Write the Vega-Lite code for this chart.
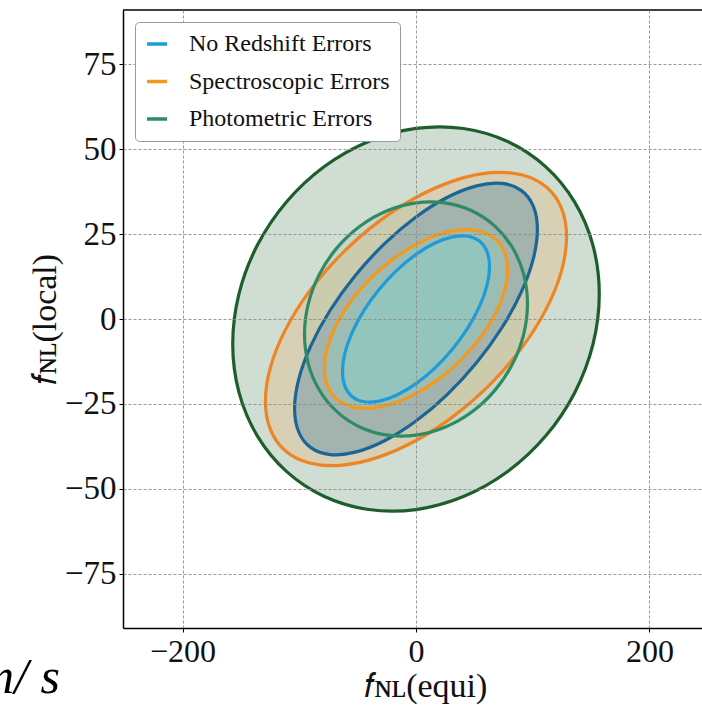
{
  "$schema": "https://vega.github.io/schema/vega-lite/v6.json",
  "width": 579,
  "height": 618,
  "autosize": {"type": "none"},
  "padding": {"left": 123, "top": 10, "right": 0, "bottom": 77},
  "background": "white",
  "config": {
    "view": {"stroke": null},
    "font": "Liberation Serif",
    "axis": {"labelFont": "Liberation Serif", "titleFont": "Liberation Serif"},
    "legend": {"labelFont": "Liberation Serif"}
  },
  "datasets": {
    "contours": [
      {"c": "photo2", "s": "Photometric Errors", "k": 0, "x": 157, "y": 7.36},
      {"c": "photo2", "s": "Photometric Errors", "k": 1, "x": 151.65, "y": 21.63},
      {"c": "photo2", "s": "Photometric Errors", "k": 2, "x": 135.96, "y": 34.43},
      {"c": "photo2", "s": "Photometric Errors", "k": 3, "x": 111.01, "y": 44.89},
      {"c": "photo2", "s": "Photometric Errors", "k": 4, "x": 78.5, "y": 52.28},
      {"c": "photo2", "s": "Photometric Errors", "k": 5, "x": 40.63, "y": 56.11},
      {"c": "photo2", "s": "Photometric Errors", "k": 6, "x": 0, "y": 56.12},
      {"c": "photo2", "s": "Photometric Errors", "k": 7, "x": -40.63, "y": 52.3},
      {"c": "photo2", "s": "Photometric Errors", "k": 8, "x": -78.5, "y": 44.92},
      {"c": "photo2", "s": "Photometric Errors", "k": 9, "x": -111.01, "y": 34.48},
      {"c": "photo2", "s": "Photometric Errors", "k": 10, "x": -135.96, "y": 21.69},
      {"c": "photo2", "s": "Photometric Errors", "k": 11, "x": -151.65, "y": 7.42},
      {"c": "photo2", "s": "Photometric Errors", "k": 12, "x": -157, "y": -7.36},
      {"c": "photo2", "s": "Photometric Errors", "k": 13, "x": -151.65, "y": -21.63},
      {"c": "photo2", "s": "Photometric Errors", "k": 14, "x": -135.96, "y": -34.43},
      {"c": "photo2", "s": "Photometric Errors", "k": 15, "x": -111.01, "y": -44.89},
      {"c": "photo2", "s": "Photometric Errors", "k": 16, "x": -78.5, "y": -52.28},
      {"c": "photo2", "s": "Photometric Errors", "k": 17, "x": -40.63, "y": -56.11},
      {"c": "photo2", "s": "Photometric Errors", "k": 18, "x": 0, "y": -56.12},
      {"c": "photo2", "s": "Photometric Errors", "k": 19, "x": 40.63, "y": -52.3},
      {"c": "photo2", "s": "Photometric Errors", "k": 20, "x": 78.5, "y": -44.92},
      {"c": "photo2", "s": "Photometric Errors", "k": 21, "x": 111.01, "y": -34.48},
      {"c": "photo2", "s": "Photometric Errors", "k": 22, "x": 135.96, "y": -21.69},
      {"c": "photo2", "s": "Photometric Errors", "k": 23, "x": 151.65, "y": -7.42},

      {"c": "photo1", "s": "Photometric Errors", "k": 0, "x": 95.5, "y": 4.49},
      {"c": "photo1", "s": "Photometric Errors", "k": 1, "x": 92.24, "y": 13.19},
      {"c": "photo1", "s": "Photometric Errors", "k": 2, "x": 82.7, "y": 20.99},
      {"c": "photo1", "s": "Photometric Errors", "k": 3, "x": 67.53, "y": 27.36},
      {"c": "photo1", "s": "Photometric Errors", "k": 4, "x": 47.75, "y": 31.87},
      {"c": "photo1", "s": "Photometric Errors", "k": 5, "x": 24.72, "y": 34.2},
      {"c": "photo1", "s": "Photometric Errors", "k": 6, "x": 0, "y": 34.21},
      {"c": "photo1", "s": "Photometric Errors", "k": 7, "x": -24.72, "y": 31.88},
      {"c": "photo1", "s": "Photometric Errors", "k": 8, "x": -47.75, "y": 27.39},
      {"c": "photo1", "s": "Photometric Errors", "k": 9, "x": -67.53, "y": 21.02},
      {"c": "photo1", "s": "Photometric Errors", "k": 10, "x": -82.7, "y": 13.22},
      {"c": "photo1", "s": "Photometric Errors", "k": 11, "x": -92.24, "y": 4.52},
      {"c": "photo1", "s": "Photometric Errors", "k": 12, "x": -95.5, "y": -4.49},
      {"c": "photo1", "s": "Photometric Errors", "k": 13, "x": -92.24, "y": -13.19},
      {"c": "photo1", "s": "Photometric Errors", "k": 14, "x": -82.7, "y": -20.99},
      {"c": "photo1", "s": "Photometric Errors", "k": 15, "x": -67.53, "y": -27.36},
      {"c": "photo1", "s": "Photometric Errors", "k": 16, "x": -47.75, "y": -31.87},
      {"c": "photo1", "s": "Photometric Errors", "k": 17, "x": -24.72, "y": -34.2},
      {"c": "photo1", "s": "Photometric Errors", "k": 18, "x": 0, "y": -34.21},
      {"c": "photo1", "s": "Photometric Errors", "k": 19, "x": 24.72, "y": -31.88},
      {"c": "photo1", "s": "Photometric Errors", "k": 20, "x": 47.75, "y": -27.39},
      {"c": "photo1", "s": "Photometric Errors", "k": 21, "x": 67.53, "y": -21.02},
      {"c": "photo1", "s": "Photometric Errors", "k": 22, "x": 82.7, "y": -13.22},
      {"c": "photo1", "s": "Photometric Errors", "k": 23, "x": 92.24, "y": -4.52},

      {"c": "spec2", "s": "Spectroscopic Errors", "k": 0, "x": 129, "y": 24.19},
      {"c": "spec2", "s": "Spectroscopic Errors", "k": 1, "x": 124.6, "y": 32.63},
      {"c": "spec2", "s": "Spectroscopic Errors", "k": 2, "x": 111.71, "y": 38.85},
      {"c": "spec2", "s": "Spectroscopic Errors", "k": 3, "x": 91.22, "y": 42.41},
      {"c": "spec2", "s": "Spectroscopic Errors", "k": 4, "x": 64.5, "y": 43.09},
      {"c": "spec2", "s": "Spectroscopic Errors", "k": 5, "x": 33.39, "y": 40.83},
      {"c": "spec2", "s": "Spectroscopic Errors", "k": 6, "x": 0, "y": 35.79},
      {"c": "spec2", "s": "Spectroscopic Errors", "k": 7, "x": -33.39, "y": 28.31},
      {"c": "spec2", "s": "Spectroscopic Errors", "k": 8, "x": -64.5, "y": 18.89},
      {"c": "spec2", "s": "Spectroscopic Errors", "k": 9, "x": -91.22, "y": 8.21},
      {"c": "spec2", "s": "Spectroscopic Errors", "k": 10, "x": -111.71, "y": -3.05},
      {"c": "spec2", "s": "Spectroscopic Errors", "k": 11, "x": -124.6, "y": -14.11},
      {"c": "spec2", "s": "Spectroscopic Errors", "k": 12, "x": -129, "y": -24.19},
      {"c": "spec2", "s": "Spectroscopic Errors", "k": 13, "x": -124.6, "y": -32.63},
      {"c": "spec2", "s": "Spectroscopic Errors", "k": 14, "x": -111.71, "y": -38.85},
      {"c": "spec2", "s": "Spectroscopic Errors", "k": 15, "x": -91.22, "y": -42.41},
      {"c": "spec2", "s": "Spectroscopic Errors", "k": 16, "x": -64.5, "y": -43.09},
      {"c": "spec2", "s": "Spectroscopic Errors", "k": 17, "x": -33.39, "y": -40.83},
      {"c": "spec2", "s": "Spectroscopic Errors", "k": 18, "x": 0, "y": -35.79},
      {"c": "spec2", "s": "Spectroscopic Errors", "k": 19, "x": 33.39, "y": -28.31},
      {"c": "spec2", "s": "Spectroscopic Errors", "k": 20, "x": 64.5, "y": -18.89},
      {"c": "spec2", "s": "Spectroscopic Errors", "k": 21, "x": 91.22, "y": -8.21},
      {"c": "spec2", "s": "Spectroscopic Errors", "k": 22, "x": 111.71, "y": 3.05},
      {"c": "spec2", "s": "Spectroscopic Errors", "k": 23, "x": 124.6, "y": 14.11},

      {"c": "spec1", "s": "Spectroscopic Errors", "k": 0, "x": 78.5, "y": 14.47},
      {"c": "spec1", "s": "Spectroscopic Errors", "k": 1, "x": 75.82, "y": 19.66},
      {"c": "spec1", "s": "Spectroscopic Errors", "k": 2, "x": 67.98, "y": 23.51},
      {"c": "spec1", "s": "Spectroscopic Errors", "k": 3, "x": 55.51, "y": 25.76},
      {"c": "spec1", "s": "Spectroscopic Errors", "k": 4, "x": 39.25, "y": 26.26},
      {"c": "spec1", "s": "Spectroscopic Errors", "k": 5, "x": 20.32, "y": 24.96},
      {"c": "spec1", "s": "Spectroscopic Errors", "k": 6, "x": 0, "y": 21.97},
      {"c": "spec1", "s": "Spectroscopic Errors", "k": 7, "x": -20.32, "y": 17.48},
      {"c": "spec1", "s": "Spectroscopic Errors", "k": 8, "x": -39.25, "y": 11.8},
      {"c": "spec1", "s": "Spectroscopic Errors", "k": 9, "x": -55.51, "y": 5.31},
      {"c": "spec1", "s": "Spectroscopic Errors", "k": 10, "x": -67.98, "y": -1.54},
      {"c": "spec1", "s": "Spectroscopic Errors", "k": 11, "x": -75.82, "y": -8.28},
      {"c": "spec1", "s": "Spectroscopic Errors", "k": 12, "x": -78.5, "y": -14.47},
      {"c": "spec1", "s": "Spectroscopic Errors", "k": 13, "x": -75.82, "y": -19.66},
      {"c": "spec1", "s": "Spectroscopic Errors", "k": 14, "x": -67.98, "y": -23.51},
      {"c": "spec1", "s": "Spectroscopic Errors", "k": 15, "x": -55.51, "y": -25.76},
      {"c": "spec1", "s": "Spectroscopic Errors", "k": 16, "x": -39.25, "y": -26.26},
      {"c": "spec1", "s": "Spectroscopic Errors", "k": 17, "x": -20.32, "y": -24.96},
      {"c": "spec1", "s": "Spectroscopic Errors", "k": 18, "x": 0, "y": -21.97},
      {"c": "spec1", "s": "Spectroscopic Errors", "k": 19, "x": 20.32, "y": -17.48},
      {"c": "spec1", "s": "Spectroscopic Errors", "k": 20, "x": 39.25, "y": -11.8},
      {"c": "spec1", "s": "Spectroscopic Errors", "k": 21, "x": 55.51, "y": -5.31},
      {"c": "spec1", "s": "Spectroscopic Errors", "k": 22, "x": 67.98, "y": 1.54},
      {"c": "spec1", "s": "Spectroscopic Errors", "k": 23, "x": 75.82, "y": 8.28},

      {"c": "nore2", "s": "No Redshift Errors", "k": 0, "x": 104, "y": 26.4},
      {"c": "nore2", "s": "No Redshift Errors", "k": 1, "x": 100.45, "y": 33.28},
      {"c": "nore2", "s": "No Redshift Errors", "k": 2, "x": 90.06, "y": 37.89},
      {"c": "nore2", "s": "No Redshift Errors", "k": 3, "x": 73.54, "y": 39.92},
      {"c": "nore2", "s": "No Redshift Errors", "k": 4, "x": 52, "y": 39.22},
      {"c": "nore2", "s": "No Redshift Errors", "k": 5, "x": 26.92, "y": 35.86},
      {"c": "nore2", "s": "No Redshift Errors", "k": 6, "x": 0, "y": 30.05},
      {"c": "nore2", "s": "No Redshift Errors", "k": 7, "x": -26.92, "y": 22.2},
      {"c": "nore2", "s": "No Redshift Errors", "k": 8, "x": -52, "y": 12.82},
      {"c": "nore2", "s": "No Redshift Errors", "k": 9, "x": -73.54, "y": 2.58},
      {"c": "nore2", "s": "No Redshift Errors", "k": 10, "x": -90.06, "y": -7.83},
      {"c": "nore2", "s": "No Redshift Errors", "k": 11, "x": -100.45, "y": -17.72},
      {"c": "nore2", "s": "No Redshift Errors", "k": 12, "x": -104, "y": -26.4},
      {"c": "nore2", "s": "No Redshift Errors", "k": 13, "x": -100.45, "y": -33.28},
      {"c": "nore2", "s": "No Redshift Errors", "k": 14, "x": -90.06, "y": -37.89},
      {"c": "nore2", "s": "No Redshift Errors", "k": 15, "x": -73.54, "y": -39.92},
      {"c": "nore2", "s": "No Redshift Errors", "k": 16, "x": -52, "y": -39.22},
      {"c": "nore2", "s": "No Redshift Errors", "k": 17, "x": -26.92, "y": -35.86},
      {"c": "nore2", "s": "No Redshift Errors", "k": 18, "x": 0, "y": -30.05},
      {"c": "nore2", "s": "No Redshift Errors", "k": 19, "x": 26.92, "y": -22.2},
      {"c": "nore2", "s": "No Redshift Errors", "k": 20, "x": 52, "y": -12.82},
      {"c": "nore2", "s": "No Redshift Errors", "k": 21, "x": 73.54, "y": -2.58},
      {"c": "nore2", "s": "No Redshift Errors", "k": 22, "x": 90.06, "y": 7.83},
      {"c": "nore2", "s": "No Redshift Errors", "k": 23, "x": 100.45, "y": 17.72},

      {"c": "nore1", "s": "No Redshift Errors", "k": 0, "x": 63, "y": 15.44},
      {"c": "nore1", "s": "No Redshift Errors", "k": 1, "x": 60.85, "y": 19.83},
      {"c": "nore1", "s": "No Redshift Errors", "k": 2, "x": 54.56, "y": 22.88},
      {"c": "nore1", "s": "No Redshift Errors", "k": 3, "x": 44.55, "y": 24.37},
      {"c": "nore1", "s": "No Redshift Errors", "k": 4, "x": 31.5, "y": 24.2},
      {"c": "nore1", "s": "No Redshift Errors", "k": 5, "x": 16.3, "y": 22.38},
      {"c": "nore1", "s": "No Redshift Errors", "k": 6, "x": 0, "y": 19.03},
      {"c": "nore1", "s": "No Redshift Errors", "k": 7, "x": -16.3, "y": 14.39},
      {"c": "nore1", "s": "No Redshift Errors", "k": 8, "x": -31.5, "y": 8.76},
      {"c": "nore1", "s": "No Redshift Errors", "k": 9, "x": -44.55, "y": 2.55},
      {"c": "nore1", "s": "No Redshift Errors", "k": 10, "x": -54.56, "y": -3.86},
      {"c": "nore1", "s": "No Redshift Errors", "k": 11, "x": -60.85, "y": -9.99},
      {"c": "nore1", "s": "No Redshift Errors", "k": 12, "x": -63, "y": -15.44},
      {"c": "nore1", "s": "No Redshift Errors", "k": 13, "x": -60.85, "y": -19.83},
      {"c": "nore1", "s": "No Redshift Errors", "k": 14, "x": -54.56, "y": -22.88},
      {"c": "nore1", "s": "No Redshift Errors", "k": 15, "x": -44.55, "y": -24.37},
      {"c": "nore1", "s": "No Redshift Errors", "k": 16, "x": -31.5, "y": -24.2},
      {"c": "nore1", "s": "No Redshift Errors", "k": 17, "x": -16.3, "y": -22.38},
      {"c": "nore1", "s": "No Redshift Errors", "k": 18, "x": 0, "y": -19.03},
      {"c": "nore1", "s": "No Redshift Errors", "k": 19, "x": 16.3, "y": -14.39},
      {"c": "nore1", "s": "No Redshift Errors", "k": 20, "x": 31.5, "y": -8.76},
      {"c": "nore1", "s": "No Redshift Errors", "k": 21, "x": 44.55, "y": -2.55},
      {"c": "nore1", "s": "No Redshift Errors", "k": 22, "x": 54.56, "y": 3.86},
      {"c": "nore1", "s": "No Redshift Errors", "k": 23, "x": 60.85, "y": 9.99}
    ]
  },
  "data": {"name": "contours"},
  "layer": [
    {
      "transform": [{"filter": "datum.c === 'photo2'"}],
      "mark": {"type": "line", "interpolate": "cardinal-closed", "fill": "#cfddd3", "strokeWidth": 0},
      "encoding": {
        "x": {
          "field": "x", "type": "quantitative",
          "scale": {"domain": [-251, 245], "nice": false, "zero": false},
          "axis": {
            "values": [-200, 0, 200],
            "title": "𝑓ɴʟ(equi)",
            "grid": true, "gridDash": [3, 2], "gridColor": "#8c8c8c", "gridWidth": 0.9,
            "domainColor": "#000000", "domainWidth": 1.5,
            "tickColor": "#000000", "tickSize": 4, "tickWidth": 1,
            "labelFont": "Liberation Serif", "labelFontSize": 32, "labelColor": "#111111",
            "labelPadding": 4, "labelFlush": false,
            "titleFont": "Liberation Serif", "titleFontSize": 34, "titleFontWeight": "normal", "titleColor": "#111111",
            "titleX": 302, "titleY": 68, "titleBaseline": "alphabetic",
            "zindex": 1
          }
        },
        "y": {
          "field": "y", "type": "quantitative",
          "scale": {"domain": [-91, 91], "nice": false, "zero": false},
          "axis": {
            "values": [-75, -50, -25, 0, 25, 50, 75],
            "title": "𝑓ɴʟ(local)",
            "grid": true, "gridDash": [3, 2], "gridColor": "#8c8c8c", "gridWidth": 0.9,
            "domainColor": "#000000", "domainWidth": 1.5,
            "tickColor": "#000000", "tickSize": 4, "tickWidth": 1,
            "labelFont": "Liberation Serif", "labelFontSize": 33, "labelColor": "#111111",
            "labelPadding": 3, "labelFlush": false,
            "titleFont": "Liberation Serif", "titleFontSize": 34, "titleFontWeight": "normal", "titleColor": "#111111",
            "titleAngle": 270, "titleX": -68, "titleY": 309, "titleAlign": "center", "titleBaseline": "alphabetic",
            "zindex": 1
          }
        },
        "order": {"field": "k", "type": "quantitative"}
      }
    },
    {
      "transform": [{"filter": "datum.c === 'spec2'"}],
      "mark": {"type": "line", "interpolate": "cardinal-closed", "fill": "#d8d0b4", "strokeWidth": 0},
      "encoding": {
        "x": {"field": "x", "type": "quantitative"},
        "y": {"field": "y", "type": "quantitative"},
        "order": {"field": "k", "type": "quantitative"}
      }
    },
    {
      "transform": [{"filter": "datum.c === 'photo1'"}],
      "mark": {"type": "line", "interpolate": "cardinal-closed", "fill": "#2e8b63", "fillOpacity": 0.07, "strokeWidth": 0},
      "encoding": {
        "x": {"field": "x", "type": "quantitative"},
        "y": {"field": "y", "type": "quantitative"},
        "order": {"field": "k", "type": "quantitative"}
      }
    },
    {
      "transform": [{"filter": "datum.c === 'nore2'"}],
      "mark": {"type": "line", "interpolate": "cardinal-closed", "fill": "#a2b4ad", "strokeWidth": 0},
      "encoding": {
        "x": {"field": "x", "type": "quantitative"},
        "y": {"field": "y", "type": "quantitative"},
        "order": {"field": "k", "type": "quantitative"}
      }
    },
    {
      "transform": [{"filter": "datum.c === 'spec1'"}],
      "mark": {"type": "line", "interpolate": "cardinal-closed", "fill": "#9cbdb4", "strokeWidth": 0},
      "encoding": {
        "x": {"field": "x", "type": "quantitative"},
        "y": {"field": "y", "type": "quantitative"},
        "order": {"field": "k", "type": "quantitative"}
      }
    },
    {
      "transform": [{"filter": "datum.c === 'nore1'"}],
      "mark": {"type": "line", "interpolate": "cardinal-closed", "fill": "#93c5bc", "strokeWidth": 0},
      "encoding": {
        "x": {"field": "x", "type": "quantitative"},
        "y": {"field": "y", "type": "quantitative"},
        "order": {"field": "k", "type": "quantitative"}
      }
    },
    {
      "transform": [{"filter": "datum.c === 'photo2'"}],
      "mark": {"type": "line", "interpolate": "cardinal-closed", "stroke": "#1e5e2c", "strokeWidth": 3.2},
      "encoding": {
        "x": {"field": "x", "type": "quantitative"},
        "y": {"field": "y", "type": "quantitative"},
        "order": {"field": "k", "type": "quantitative"}
      }
    },
    {
      "transform": [{"filter": "datum.c === 'spec2'"}],
      "mark": {"type": "line", "interpolate": "cardinal-closed", "stroke": "#ee8423", "strokeWidth": 3.2},
      "encoding": {
        "x": {"field": "x", "type": "quantitative"},
        "y": {"field": "y", "type": "quantitative"},
        "order": {"field": "k", "type": "quantitative"}
      }
    },
    {
      "transform": [{"filter": "datum.c === 'nore2'"}],
      "mark": {"type": "line", "interpolate": "cardinal-closed", "stroke": "#1b6696", "strokeWidth": 3.2},
      "encoding": {
        "x": {"field": "x", "type": "quantitative"},
        "y": {"field": "y", "type": "quantitative"},
        "order": {"field": "k", "type": "quantitative"}
      }
    },
    {
      "transform": [{"filter": "datum.c === 'photo1' || datum.c === 'spec1' || datum.c === 'nore1'"}],
      "mark": {"type": "line", "interpolate": "cardinal-closed", "strokeWidth": 3.2},
      "encoding": {
        "x": {"field": "x", "type": "quantitative"},
        "y": {"field": "y", "type": "quantitative"},
        "order": {"field": "k", "type": "quantitative"},
        "color": {
          "field": "s", "type": "nominal",
          "scale": {
            "domain": ["No Redshift Errors", "Spectroscopic Errors", "Photometric Errors"],
            "range": ["#1f9bd7", "#f39a1e", "#2e8b63"]
          },
          "legend": {
            "orient": "none", "legendX": 12, "legendY": 12,
            "title": null,
            "symbolType": "stroke", "symbolSize": 400, "symbolStrokeWidth": 3.5,
            "labelFont": "Liberation Serif", "labelFontSize": 24, "labelColor": "#111111",
            "labelLimit": 400,
            "labelOffset": 20, "rowPadding": 13.5, "padding": 10,
            "strokeColor": "#9a9a9a", "fillColor": "#ffffff", "cornerRadius": 4,
            "zindex": 2
          }
        }
      }
    },
    {
      "data": {"values": [{}]},
      "mark": {"type": "rule", "color": "#000000", "strokeWidth": 1.5},
      "encoding": {
        "y": {"datum": 91, "type": "quantitative"}
      }
    },
    {
      "data": {"values": [{"unit": "m/ s"}]},
      "mark": {
        "type": "text", "align": "right", "baseline": "alphabetic",
        "dx": -63, "dy": 65,
        "font": "Liberation Serif", "fontSize": 50, "fontStyle": "italic", "color": "#000000"
      },
      "encoding": {
        "x": {"datum": -251, "type": "quantitative"},
        "y": {"datum": -91, "type": "quantitative"},
        "text": {"field": "unit"}
      }
    }
  ]
}
